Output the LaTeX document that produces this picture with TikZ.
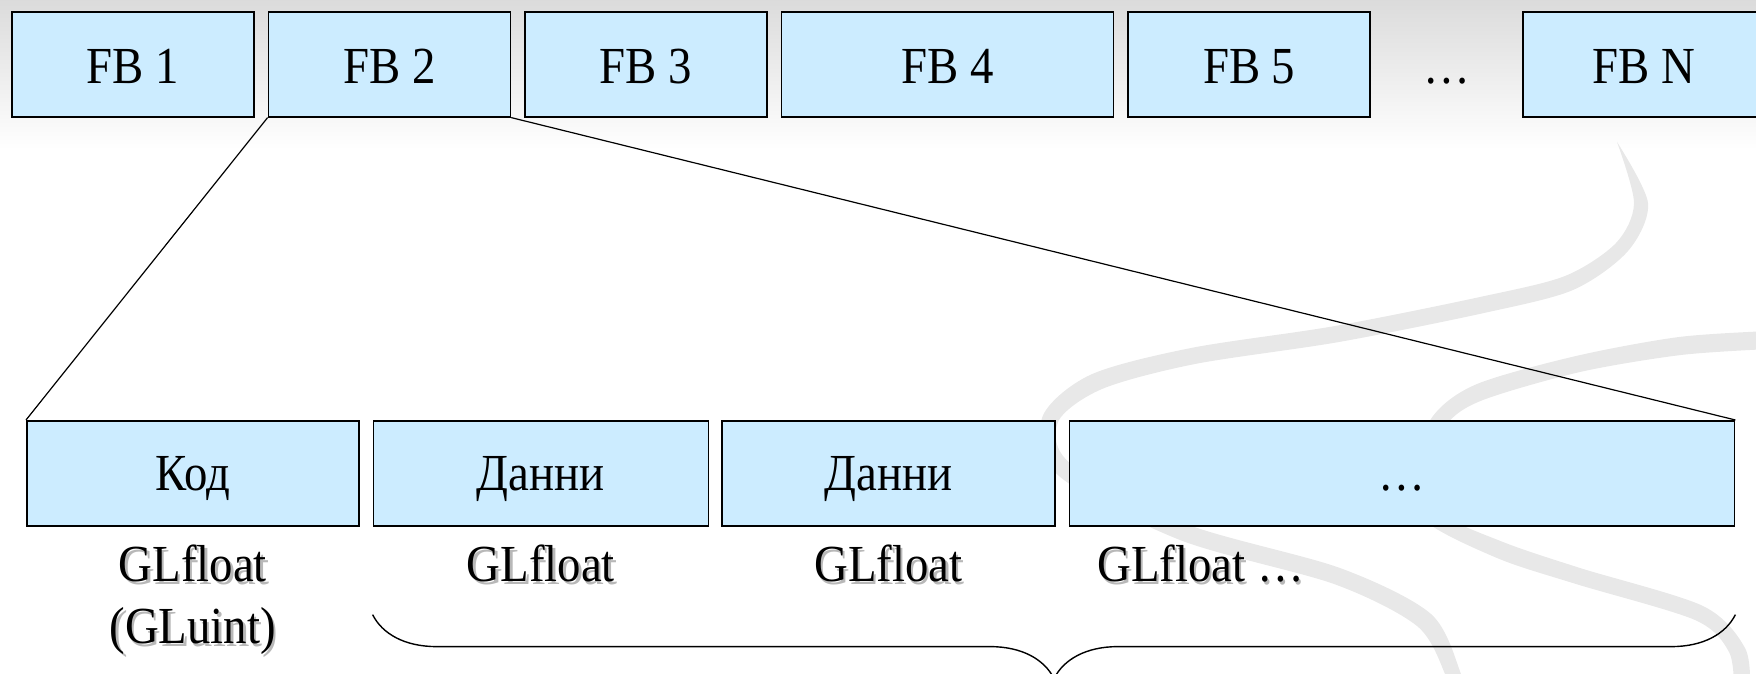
\documentclass[tikz,border=0pt]{standalone}
\usepackage{fontspec}
\setmainfont{Liberation Serif}[FakeStretch=0.9]
\usetikzlibrary{positioning, calc, decorations.pathreplacing}
\definecolor{boxblue}{HTML}{CCECFF}
% text with a soft drop shadow
\newcommand{\shtext}[1]{\makebox[0pt][l]{\hspace{1.2pt}\raisebox{-1.2pt}{\textcolor{black!28}{#1}}}#1}

\begin{document}
\begin{tikzpicture}[x=0.5pt, y=-0.5pt]
	\tikzstyle{fb}=[draw, fill=boxblue, line width=0.8pt, minimum height=52.5pt, minimum width=121pt, inner sep=0pt, font=\fontsize{26}{30}\selectfont, text height=19.5pt, text depth=0pt]
	\tikzstyle{cell}=[draw, fill=boxblue, line width=0.8pt, minimum height=52.5pt, inner sep=0pt, font=\fontsize{26}{30}\selectfont, text height=17pt, text depth=0pt]
	\tikzstyle{type}=[inner sep=0pt, align=center, font=\fontsize{26}{31}\selectfont]
	\tikzstyle{swoosh}=[fill=black!9]

	\useasboundingbox (0,0) rectangle (1756,674);
	\shade[top color=black!14, bottom color=white] (0,0) rectangle (1756,150);

	% background swooshes
	\fill[swoosh] plot[smooth] coordinates {(1617,142) (1648,203) (1628,251) (1573,290) (1484,313) (1339,342) (1195,364) (1102,389) (1058,422) (1071,464) (1186,524) (1340,568) (1431,614) (1461,674) (1466,700)}
		-- plot[smooth] coordinates {(1450,700) (1445,674) (1417,626) (1334,584) (1180,540) (1059,476) (1042,418) (1090,375) (1191,348) (1335,326) (1480,297) (1565,276) (1616,243) (1634,203) (1617,142)} -- cycle;
	\fill[swoosh] plot[smooth] coordinates {(1770,349) (1681,355) (1580,372) (1483,400) (1447,424) (1428,470) (1437,511) (1503,542) (1580,568) (1703,606) (1745,648) (1750,690)}
		-- plot[smooth] coordinates {(1734,690) (1729,652) (1695,620) (1576,584) (1497,558) (1423,519) (1412,470) (1433,416) (1477,384) (1576,356) (1679,337) (1770,331)} -- cycle;

	% frame buffer blocks
	\node[fb, anchor=north west] (fb1) at (11,11) {FB 1};
	\node[fb, right=6.5pt of fb1] (fb2) {FB 2};
	\node[fb, right=6.5pt of fb2] (fb3) {FB 3};
	\node[fb, right=6.5pt of fb3, minimum width=166pt] (fb4) {FB 4};
	\node[fb, right=6.5pt of fb4] (fb5) {FB 5};
	\node[fb, right=75.5pt of fb5] (fbn) {FB N};
	\node[fb, draw=none, fill=none, minimum width=0pt] (gap) at ($(fb5.east)!0.5!(fbn.west)$) {…};

	% one block in detail
	\node[cell, anchor=north west, minimum width=166pt] (kod) at (26,420) {Код};
	\node[cell, right=6.5pt of kod, minimum width=167.5pt] (d1) {Данни};
	\node[cell, right=6pt of d1, minimum width=166.5pt] (d2) {Данни};
	\node[cell, right=6.5pt of d2, minimum width=332.5pt] (more) {…};

	\draw[line width=0.6pt] (fb2.south west) -- (kod.north west);
	\draw[line width=0.6pt] (fb2.south east) -- (more.north east);

	\node[type, below=9pt of kod] (t1) {\shtext{GLfloat}\\\shtext{(GLuint)}};
	\node[type, below=9pt of d1] (t2) {\shtext{GLfloat}};
	\node[type, below=9pt of d2] (t3) {\shtext{GLfloat}};
	\node[type, anchor=north west] (t4) at ([xshift=14pt, yshift=-9pt]more.south west) {\shtext{GLfloat …}};

	\coordinate (br1) at ([yshift=-44pt]more.south east);
	\coordinate (br2) at ([yshift=-44pt]d1.south west);
	\draw[line width=0.7pt, decorate, decoration={brace, amplitude=32pt}] (br1) -- (br2);
\end{tikzpicture}
\end{document}
